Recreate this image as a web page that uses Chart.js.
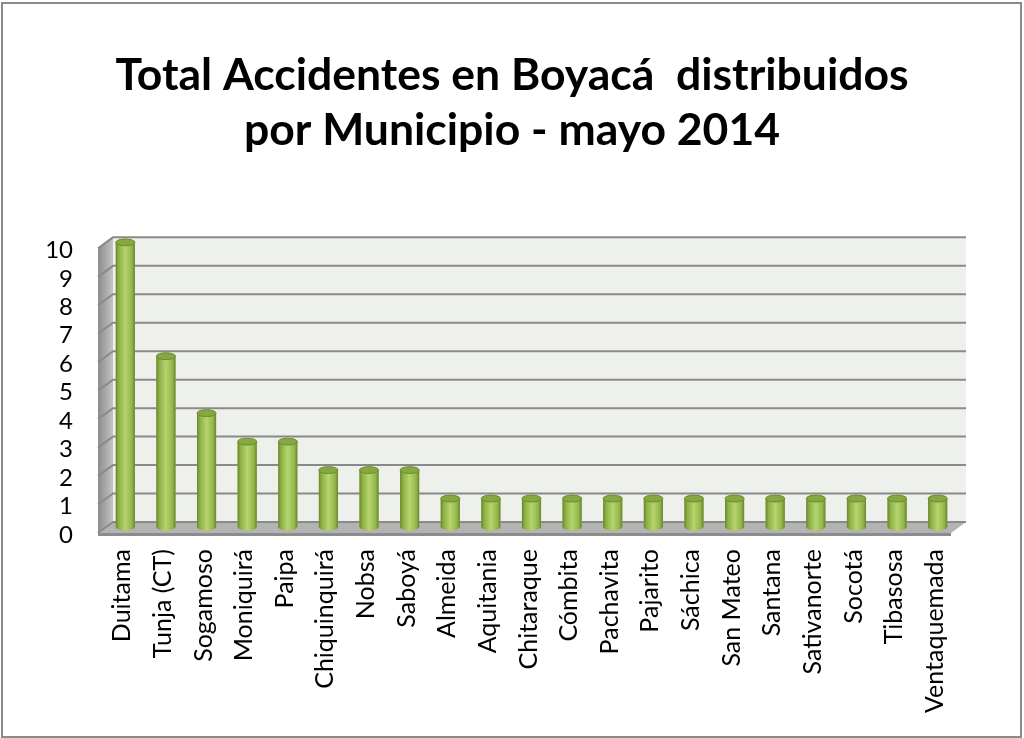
<!DOCTYPE html>
<html lang="es">
<head>
<meta charset="UTF-8">
<title>Total Accidentes en Boyacá</title>
<script src="https://cdn.jsdelivr.net/npm/chart.js"></script>
<style>
    body { margin: 0; background: #fff; }
    .marco { position: relative; width: 1024px; height: 738px; }
    .marco::after {
        content: '';
        position: absolute;
        left: 1px; top: 2px; width: 1021px; height: 736px;
        border: 2px solid #8a8a8a;
        box-sizing: border-box;
        pointer-events: none;
    }
</style>
</head>
<body>
<div class="marco">
    <canvas id="grafico" width="1024" height="738"></canvas>
</div>

<script>
    const municipios = ['Duitama', 'Tunja (CT)', 'Sogamoso', 'Moniquirá', 'Paipa', 'Chiquinquirá', 'Nobsa', 'Saboyá',
        'Almeida', 'Aquitania', 'Chitaraque', 'Cómbita', 'Pachavita', 'Pajarito', 'Sáchica', 'San Mateo',
        'Santana', 'Sativanorte', 'Socotá', 'Tibasosa', 'Ventaquemada'];
    const accidentes = [10, 6, 4, 3, 3, 2, 2, 2, 1, 1, 1, 1, 1, 1, 1, 1, 1, 1, 1, 1, 1];
    const tituloLineas = ['Total Accidentes en Boyacá  distribuidos', 'por Municipio - mayo 2014'];

    const fuente = "Lato, 'Open Sans', sans-serif";

    // desplazamiento de la cara frontal y del fondo (efecto 3D)
    const frente = { dx: -7, dy: 6 };
    const fondo = { dx: 8, dy: -5 };

    function poligono(ctx, puntos, relleno) {
        ctx.beginPath();
        puntos.forEach((p, i) => i ? ctx.lineTo(p[0], p[1]) : ctx.moveTo(p[0], p[1]));
        ctx.closePath();
        ctx.fillStyle = relleno;
        ctx.fill();
    }

    const paredes3D = {
        id: 'paredes3D',
        beforeDatasetsDraw(chart) {
            const { ctx, chartArea: a, scales: { y } } = chart;
            const y0 = y.getPixelForValue(0), yMax = y.getPixelForValue(y.max);
            ctx.save();
            // pared del fondo
            ctx.fillStyle = '#eef0eb';
            ctx.fillRect(a.left + fondo.dx, yMax + fondo.dy, a.right - a.left, y0 - yMax);
            // pared lateral
            const g = ctx.createLinearGradient(a.left + frente.dx, 0, a.left + fondo.dx, 0);
            g.addColorStop(0, '#8c8c8c');
            g.addColorStop(1, '#c4c4c4');
            poligono(ctx, [[a.left + frente.dx, yMax + frente.dy], [a.left + fondo.dx, yMax + fondo.dy],
                [a.left + fondo.dx, y0 + fondo.dy], [a.left + frente.dx, y0 + frente.dy]], g);
            // piso
            poligono(ctx, [[a.left + frente.dx, y0 + frente.dy], [a.left + fondo.dx, y0 + fondo.dy],
                [a.right + fondo.dx, y0 + fondo.dy], [a.right + frente.dx, y0 + frente.dy]], '#b3b3b3');
            ctx.fillStyle = '#8c8c8c';
            ctx.fillRect(a.left + frente.dx, y0 + frente.dy, a.right - a.left, 3);
            // lineas de division
            ctx.strokeStyle = '#8a8a8a';
            ctx.lineWidth = 2;
            y.ticks.forEach(t => {
                const py = y.getPixelForValue(t.value);
                ctx.beginPath();
                ctx.moveTo(a.left + frente.dx, py + frente.dy);
                ctx.lineTo(a.left + fondo.dx, py + fondo.dy);
                ctx.lineTo(a.right + fondo.dx, py + fondo.dy);
                ctx.stroke();
            });
            ctx.restore();
        }
    };

    const cilindros = {
        id: 'cilindros',
        afterDatasetsDraw(chart) {
            const ctx = chart.ctx;
            chart.getDatasetMeta(0).data.forEach(barra => {
                const { x, y, base, width } = barra.getProps(['x', 'y', 'base', 'width'], true);
                const l = x - width / 2, r = x + width / 2, ry = width * 0.18;
                const g = ctx.createLinearGradient(l, 0, r, 0);
                g.addColorStop(0, '#66862a');
                g.addColorStop(0.15, '#8eaf45');
                g.addColorStop(0.5, '#b5d56d');
                g.addColorStop(0.85, '#93b34b');
                g.addColorStop(1, '#66862a');
                ctx.save();
                ctx.fillStyle = g;
                ctx.beginPath();
                ctx.moveTo(l, y);
                ctx.lineTo(l, base);
                ctx.ellipse(x, base, width / 2, ry, 0, Math.PI, 0, true);
                ctx.lineTo(r, y);
                ctx.closePath();
                ctx.fill();
                // tapa superior
                ctx.beginPath();
                ctx.ellipse(x, y, width / 2, ry, 0, 0, Math.PI * 2);
                ctx.fillStyle = '#86a742';
                ctx.fill();
                ctx.strokeStyle = '#6c8c2e';
                ctx.lineWidth = 1;
                ctx.stroke();
                ctx.restore();
            });
        }
    };

    new Chart(document.getElementById('grafico'), {
        type: 'bar',
        data: {
            labels: municipios,
            datasets: [{
                label: 'Accidentes',
                data: accidentes,
                backgroundColor: '#9bbb59',
                barPercentage: 0.47,
                categoryPercentage: 1
            }]
        },
        options: {
            responsive: false,
            animation: false,
            layout: { padding: 0 },
            plugins: {
                legend: { display: false },
                tooltip: { enabled: false },
                title: {
                    display: true,
                    text: tituloLineas,
                    color: '#000',
                    font: { family: fuente, size: 44.5, weight: 'bold', lineHeight: 1.24 },
                    padding: { top: 48, bottom: 84 }
                }
            },
            scales: {
                x: {
                    grid: { display: false, drawTicks: false },
                    border: { display: false },
                    ticks: {
                        color: '#000',
                        font: { family: fuente, size: 25 },
                        minRotation: 90,
                        maxRotation: 90,
                        autoSkip: false,
                        padding: 22,
                        labelOffset: -3
                    },
                    afterFit: s => { s.height = 211; }
                },
                y: {
                    min: 0,
                    max: 10,
                    grid: { display: false, drawTicks: false },
                    border: { display: false },
                    ticks: {
                        stepSize: 1,
                        autoSkip: false,
                        color: '#000',
                        font: { family: fuente, size: 24 },
                        padding: 32,
                        labelOffset: 8
                    },
                    afterFit: s => { s.width = 105; }
                },
                // eje vacío a la derecha: deja el margen del área de trazado
                margen: {
                    type: 'linear',
                    position: 'right',
                    min: 0,
                    max: 10,
                    grid: { display: false, drawTicks: false },
                    border: { display: false },
                    ticks: { display: false },
                    afterFit: s => { s.width = 66; }
                }
            }
        },
        plugins: [paredes3D, cilindros]
    });
</script>
</body>
</html>
